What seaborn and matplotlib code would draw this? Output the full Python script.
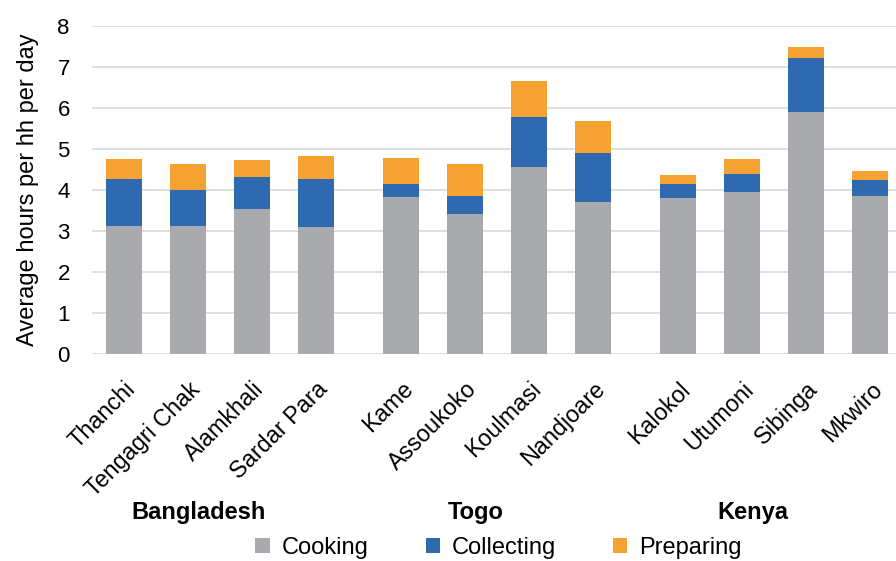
import numpy as np
import pandas as pd
import seaborn as sns
import matplotlib.pyplot as plt
from matplotlib.patches import Patch
from matplotlib.transforms import blended_transform_factory

# data
villages = ["Thanchi", "Tengagri Chak", "Alamkhali", "Sardar Para",
            "Kame", "Assoukoko", "Koulmasi", "Nandjoare",
            "Kalokol", "Utumoni", "Sibinga", "Mkwiro"]
countries = ["Bangladesh", "Togo", "Kenya"]
village_country = ["Bangladesh"] * 4 + ["Togo"] * 4 + ["Kenya"] * 4
cooking = [3.12, 3.12, 3.53, 3.09, 3.83, 3.41, 4.56, 3.70, 3.80, 3.95, 5.90, 3.85]
collecting = [1.14, 0.88, 0.78, 1.17, 0.31, 0.44, 1.21, 1.20, 0.34, 0.44, 1.31, 0.39]
preparing = [0.49, 0.63, 0.42, 0.56, 0.64, 0.78, 0.88, 0.78, 0.22, 0.36, 0.27, 0.22]

colors = {"Cooking": "#A9AAAD", "Collecting": "#2F69AF", "Preparing": "#F5A232"}

df = pd.DataFrame({"village": villages, "country": village_country,
                   "cooking": cooking, "collecting": collecting,
                   "preparing": preparing})
# gap between country groups
group_idx = df["country"].map({c: i for i, c in enumerate(countries)})
df["pos"] = np.arange(len(df)) + group_idx * 0.33
df["cum_collect"] = df["cooking"] + df["collecting"]
df["cum_prep"] = df["cum_collect"] + df["preparing"]

sns.set_theme(style="white")
plt.rcParams["font.family"] = ["Liberation Sans", "DejaVu Sans"]
plt.rcParams["text.color"] = "black"

fig = plt.figure(figsize=(8.96, 5.61), dpi=100)
ax = fig.add_axes([92 / 896, 1 - 354 / 561, (896 - 92) / 896, (354 - 25.7) / 561])

# stacked bars: draw cumulative totals from top layer down
for col, name in [("cum_prep", "Preparing"), ("cum_collect", "Collecting"), ("cooking", "Cooking")]:
    sns.barplot(data=df, x="pos", y=col, native_scale=True, orient="x",
                width=0.56, color=colors[name], saturation=1, errorbar=None,
                linewidth=0, ax=ax)

ax.set_xlim(-0.5, -0.5 + 804 / 64)
ax.set_ylim(0, 8)
ax.set_yticks(range(0, 9))
ax.yaxis.grid(True, color="#D9D9D9", linewidth=1.2)
ax.set_axisbelow(True)
for s in ax.spines.values():
    s.set_visible(False)

ax.set_xlabel("")
ax.set_ylabel("")
ax.set_xticks(df["pos"])
ax.set_xticklabels(villages, rotation=45, ha="right", va="top", rotation_mode="anchor")
ax.tick_params(axis="x", length=0, pad=17, labelsize=16.8, colors="black")
ax.tick_params(axis="y", length=0, pad=16, labelsize=16, colors="black")

fig.text(28 / 896, 1 - 190 / 561, "Average hours per hh per day", rotation=90,
         ha="center", va="center", fontsize=17)

# country group labels
trans = blended_transform_factory(ax.transData, fig.transFigure)
for c in countries:
    center = df.loc[df["country"] == c, "pos"].mean() - 0.33
    ax.text(center, 1 - 513 / 561, c, transform=trans, ha="center", va="center",
            fontsize=17, fontweight="bold")

handles = [Patch(facecolor=colors[n], edgecolor="none", label=n)
           for n in ["Cooking", "Collecting", "Preparing"]]
fig.legend(handles=handles, loc="center", bbox_to_anchor=(498.5 / 896, 1 - 548 / 561),
           ncol=3, frameon=False, fontsize=17, handlelength=0.6, handleheight=0.6,
           handletextpad=0.5, columnspacing=2.43, borderaxespad=0, borderpad=0)

fig.savefig("out.png", dpi=100)
